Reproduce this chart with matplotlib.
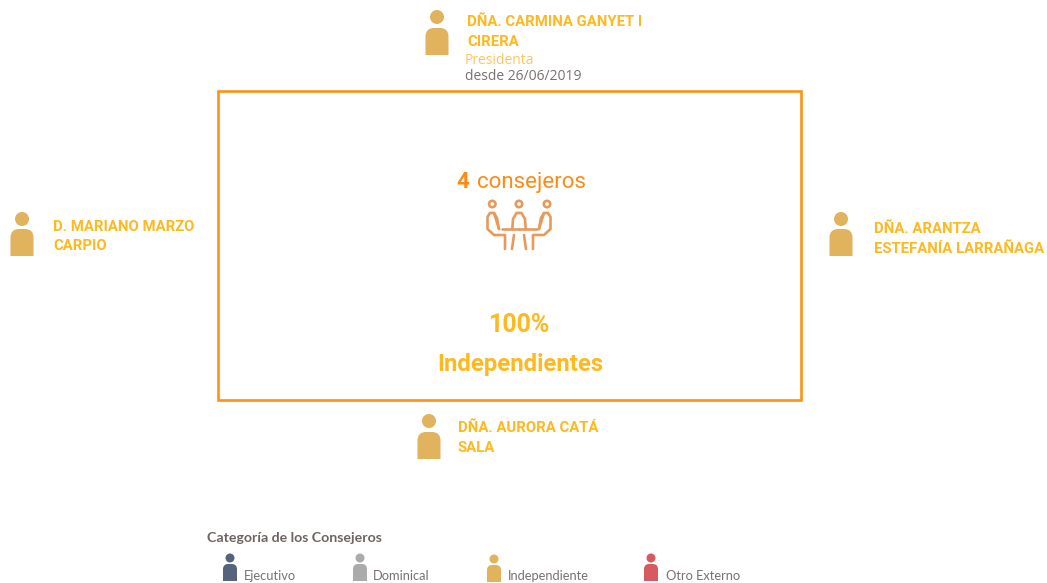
import matplotlib
matplotlib.use("Agg")
import matplotlib.pyplot as plt
from matplotlib.patches import Circle, PathPatch, Rectangle
from matplotlib.path import Path

W, H = 1047, 583

# ---- content ----
members = ["DÑA. CARMINA GANYET I\nCIRERA", "D. MARIANO MARZO\nCARPIO",
           "DÑA. ARANTZA\nESTEFANÍA LARRAÑAGA", "DÑA. AURORA CATÁ\nSALA"]
role = "Presidenta"
since = "desde 26/06/2019"
count_number = "4"
count_label = "consejeros"
share = "100%"
share_label = "Independientes"
legend_title = "Categoría de los Consejeros"
categories = ["Ejecutivo", "Dominical", "Independiente", "Otro Externo"]

# ---- styles ----
GOLD = "#E0B35C"
NAME = "#FFB81F"
ORANGE = "#FF9214"
cat_colors = ["#56637F", "#ABABAB", GOLD, "#D65A60"]

fig = plt.figure(figsize=(W / 100, H / 100), dpi=100, facecolor="white")
ax = fig.add_axes([0, 0, 1, 1])
ax.set_xlim(0, W)
ax.set_ylim(H, 0)
ax.axis("off")


def person(cx, top, color, w, h_head, r):
    """Round head above a body with a rounded top, in pixel units."""
    ax.add_patch(Circle((cx, top + r), r, fc=color, ec="none"))
    y0 = top + h_head
    y1 = y0 + (27 if w > 18 else 17)
    hw = w / 2
    c = hw * 0.75
    verts = [(cx - hw, y1), (cx - hw, y0 + c), (cx - hw, y0), (cx - hw + c, y0),
             (cx + hw - c, y0), (cx + hw, y0), (cx + hw, y0 + c), (cx + hw, y1),
             (cx - hw, y1)]
    codes = [Path.MOVETO, Path.LINETO, Path.CURVE3, Path.CURVE3,
             Path.LINETO, Path.CURVE3, Path.CURVE3, Path.LINETO, Path.CLOSEPOLY]
    ax.add_patch(PathPatch(Path(verts, codes), fc=color, ec="none"))


def meeting_icon(cx, top, color="#E8995C"):
    lw = 1.9
    for dx in (-26.7, 0, 28):
        ax.add_patch(Circle((cx + dx, top), 3.2, fc="white", ec=color, lw=lw))
    def line(pts):
        for sgn in (-1, 1):
            ax.plot([cx + sgn * p[0] for p in pts], [top + p[1] for p in pts],
                    color=color, lw=lw, solid_joinstyle="round", solid_capstyle="round")
    # side sitters, table and legs, mirrored about the centre
    line([(20, 25), (25, 9), (29, 9), (31.5, 13), (31.5, 25), (25, 31), (14, 31), (14, 45)])
    line([(25, 9), (22, 14), (20, 25)])
    line([(17.5, 25), (0, 25)])
    line([(6.7, 25), (6, 15), (2.5, 9), (0, 9)])
    line([(5, 31), (7, 45)])


# ---- frame ----
ax.add_patch(Rectangle((217.8, 90.8), 583.5, 309.5, fc="none", ec=ORANGE, lw=1.9))

# ---- people ----
person(437, 10, GOLD, 23, 18, 7)
person(22, 212, GOLD, 23, 17, 7)
person(841, 212, GOLD, 23, 17, 7)
person(429, 414, GOLD, 23, 18, 7)

name_style = dict(family="Roboto", fontweight="bold", fontsize=10.7, color=NAME, va="center", ha="left")
for (x, y1, y2), name in zip([(467, 22, 42), (53, 227, 246), (874, 229, 249), (458, 428, 448)], members):
    l1, l2 = name.split("\n")
    ax.text(x, y1, l1, **name_style)
    ax.text(x, y2, l2, **name_style)

ax.text(465, 60.5, role, family="Open Sans", fontsize=10, color="#FFC45C", va="center")
ax.text(465, 77, since, family="Open Sans", fontsize=10, color="#7A7070", va="center")

# ---- centre ----
ax.text(456, 182.5, count_number, family="Roboto", fontweight="bold", fontsize=16, color="#FF8A12", va="center")
ax.text(477, 182.5, count_label, family="Roboto", fontsize=16, color="#FF8A12", va="center")
meeting_icon(519, 204)
ax.text(520, 324.5, share, family="Roboto", fontweight="bold", fontsize=18, color=NAME, ha="center", va="center")
ax.text(520.5, 364.5, share_label, family="Roboto", fontweight="bold", fontsize=17.2, color=NAME, ha="center", va="center")

# ---- legend ----
ax.text(207, 538, legend_title, family="Lato", fontweight="bold", fontsize=10.15, color="#6E6360", va="center")
for cat, col, cx, top, tx in zip(categories, cat_colors, [230, 360, 494, 651], [553.5, 553.5, 554.5, 553.5], [244, 373, 508, 666]):
    person(cx, top, col, 14, 10.5, 4.5)
    ax.text(tx, 576, cat, family="Lato", fontsize=9.3, color="#7A7070", va="center")

fig.savefig("out.png", dpi=100, facecolor="white")
